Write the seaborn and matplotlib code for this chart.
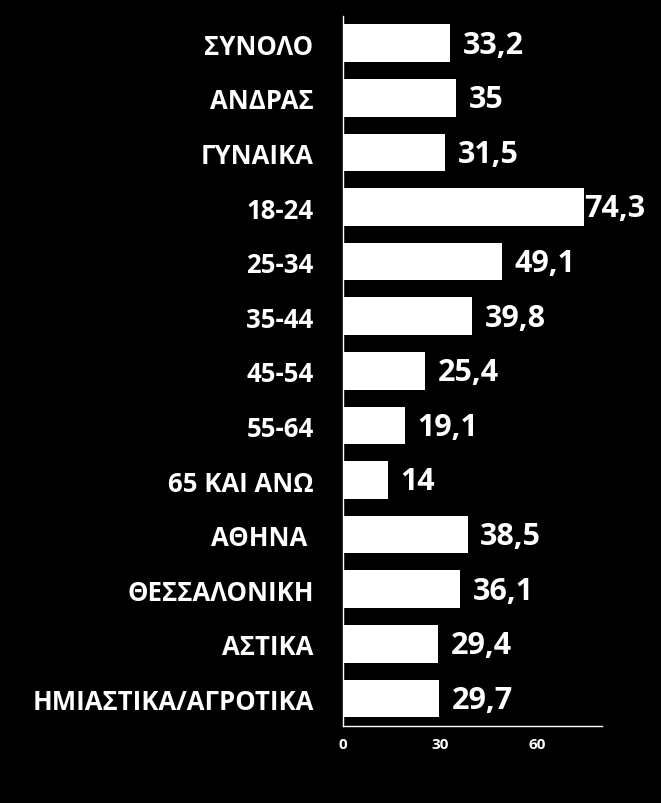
import matplotlib
matplotlib.use("Agg")
import matplotlib.pyplot as plt
import seaborn as sns
import pandas as pd

categories = ["ΣΥΝΟΛΟ", "ΑΝΔΡΑΣ", "ΓΥΝΑΙΚΑ", "18-24", "25-34", "35-44", "45-54",
              "55-64", "65 ΚΑΙ ΑΝΩ", "ΑΘΗΝΑ ", "ΘΕΣΣΑΛΟΝΙΚΗ", "ΑΣΤΙΚΑ",
              "ΗΜΙΑΣΤΙΚΑ/ΑΓΡΟΤΙΚΑ"]
values = [33.2, 35, 31.5, 74.3, 49.1, 39.8, 25.4, 19.1, 14, 38.5, 36.1, 29.4, 29.7]
x_ticks = [0, 30, 60]

df = pd.DataFrame({"cat": categories, "val": values})

sns.set_theme(style="dark")
plt.rcParams["font.family"] = ["Open Sans", "DejaVu Sans"]

fig = plt.figure(figsize=(6.61, 8.04), dpi=100, facecolor="black")
ax = fig.add_axes([0.5185, 0.0961, 0.3928, 0.8828])
ax.set_facecolor("black")

sns.barplot(data=df, x="val", y="cat", orient="h", color="white", width=0.69,
            saturation=1, ax=ax, edgecolor="none")

ax.set_xlim(0, 80)
ax.set_ylim(len(categories) - 0.5, -0.5)
ax.set_xticks(x_ticks)
ax.set_xticklabels([str(t) for t in x_ticks])
ax.set_xlabel("")
ax.set_ylabel("")
ax.grid(False)

for side in ["top", "right"]:
    ax.spines[side].set_visible(False)
for side in ["left", "bottom"]:
    ax.spines[side].set_visible(True)
    ax.spines[side].set_color("white")
    ax.spines[side].set_linewidth(1.0)

ax.tick_params(axis="x", colors="white", direction="inout", length=6, width=1,
               labelsize=11, pad=5)
ax.tick_params(axis="y", length=0, pad=21, labelsize=18.5, labelcolor="white")
for lab in ax.get_xticklabels():
    lab.set_fontweight("bold")
for lab in ax.get_yticklabels():
    lab.set_fontweight("bold")

container = ax.containers[0]
labels = [f"{v:g}".replace(".", ",") for v in values]
for bar, lab, v in zip(container, labels, values):
    pad = 0 if v > 70 else 9
    ax.annotate(lab, xy=(bar.get_width(), bar.get_y() + bar.get_height() / 2),
                xytext=(pad, -1), textcoords="offset points", ha="left",
                va="center", color="white", fontsize=22, fontweight="bold",
                annotation_clip=False)

fig.savefig("out.png", dpi=100, facecolor="black")
